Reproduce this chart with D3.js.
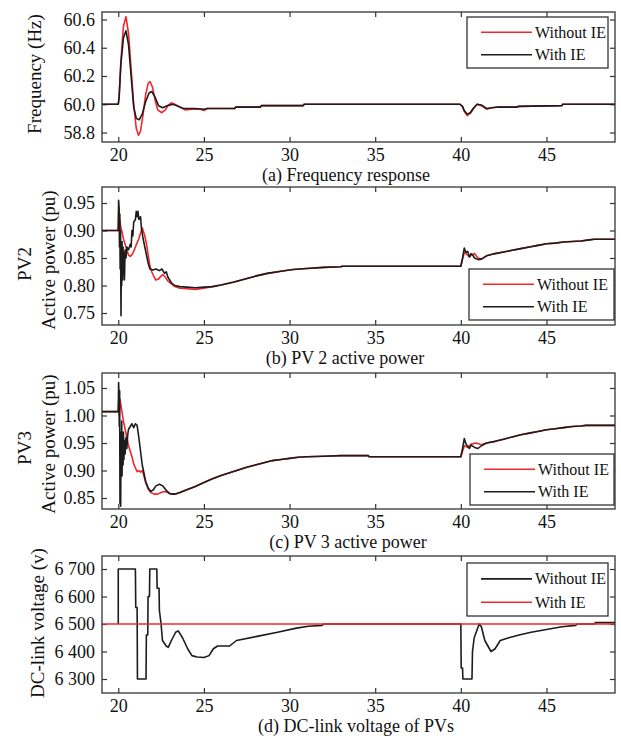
<!DOCTYPE html>
<html><head><meta charset="utf-8">
<script src="https://cdn.jsdelivr.net/npm/d3@7"></script>
<style>
body{margin:0;background:#fff;}
svg text{font-family:"Liberation Serif","Times New Roman",serif;fill:#111;}
</style></head><body>
<svg id="chart" width="621" height="736"></svg>
<script>
// ---------- DATA ----------
const xTicks = [20, 25, 30, 35, 40, 45];
const xDomain = [19.05, 49.0];

// (a) Frequency response (label "58.8" sits at the 59.8 position, as printed)
const freqTicks = [59.8, 60.0, 60.2, 60.4, 60.6];
const freqTickLabels = ["58.8", "60.0", "60.2", "60.4", "60.6"];
const freqWithoutIE = [[19.05,60.0],[20.0,60.0],[20.05,60.05],[20.15,60.3],[20.3,60.55],[20.45,60.62],[20.6,60.5],[20.75,60.25],[20.9,60.0],[21.05,59.83],[21.18,59.78],[21.3,59.81],[21.45,59.93],[21.6,60.07],[21.75,60.15],[21.86,60.16],[22.0,60.12],[22.15,60.03],[22.3,59.96],[22.54,59.94],[22.75,59.96],[22.9,59.99],[23.08,60.01],[23.3,60.0],[23.6,59.98],[23.9,59.96],[24.3,59.965],[24.8,59.965],[25.0,59.955],[25.2,59.97],[26.8,59.97],[26.85,59.98],[28.3,59.98],[28.35,59.99],[30.8,59.99],[30.85,60.0],[39.95,60.0],[40.1,59.98],[40.2,59.95],[40.37,59.92],[40.55,59.935],[40.75,59.97],[40.95,60.0],[41.2,59.99],[41.5,59.965],[41.8,59.975],[42.2,59.98],[43.3,59.98],[43.35,59.985],[45.9,59.99],[45.95,60.0],[49.05,60.0]];
const freqWithIE = [[19.05,60.0],[20.0,60.0],[20.05,60.05],[20.15,60.28],[20.3,60.47],[20.45,60.52],[20.6,60.42],[20.75,60.2],[20.9,59.98],[21.05,59.9],[21.22,59.89],[21.4,59.93],[21.6,60.02],[21.8,60.08],[21.95,60.09],[22.15,60.05],[22.35,59.99],[22.6,59.975],[22.85,59.99],[23.2,60.0],[23.5,59.985],[23.8,59.97],[24.5,59.97],[25.0,59.965],[25.2,59.97],[26.8,59.97],[26.85,59.98],[28.3,59.98],[28.35,59.99],[30.8,59.99],[30.85,60.0],[39.95,60.0],[40.1,59.985],[40.2,59.955],[40.37,59.93],[40.55,59.94],[40.75,59.975],[40.95,60.0],[41.2,59.995],[41.5,59.97],[41.8,59.975],[42.2,59.98],[43.3,59.98],[43.35,59.985],[45.9,59.99],[45.95,60.0],[49.05,60.0]];

// (b) PV2 active power
const pv2Ticks = [0.75, 0.80, 0.85, 0.90, 0.95];
const pv2TickLabels = ["0.75", "0.80", "0.85", "0.90", "0.95"];
const pv2WithoutIE = [[19.05,0.90],[20.0,0.90],[20.03,0.94],[20.06,0.91],[20.1,0.918],[20.15,0.905],[20.2,0.90],[20.3,0.885],[20.4,0.875],[20.5,0.865],[20.6,0.855],[20.7,0.853],[20.8,0.856],[20.9,0.862],[21.0,0.87],[21.1,0.878],[21.2,0.885],[21.3,0.895],[21.4,0.905],[21.45,0.90],[21.55,0.89],[21.65,0.875],[21.75,0.855],[21.85,0.835],[21.95,0.825],[22.1,0.815],[22.2,0.81],[22.35,0.812],[22.5,0.817],[22.6,0.82],[22.75,0.815],[22.9,0.808],[23.1,0.803],[23.3,0.798],[23.6,0.795],[24.0,0.794],[24.5,0.793],[25.0,0.795],[25.5,0.798],[26.0,0.801],[26.7,0.806],[27.3,0.811],[28.0,0.817],[28.7,0.822],[29.5,0.826],[30.2,0.829],[31.0,0.831],[32.0,0.833],[33.0,0.834],[33.05,0.835],[40.0,0.835],[40.1,0.848],[40.2,0.86],[40.4,0.855],[40.5,0.852],[40.65,0.856],[40.8,0.858],[41.0,0.85],[41.2,0.848],[41.5,0.854],[42.0,0.858],[42.5,0.861],[43.0,0.864],[43.5,0.867],[44.0,0.87],[44.5,0.873],[45.0,0.876],[45.5,0.877],[46.0,0.879],[46.5,0.88],[47.0,0.881],[47.5,0.883],[47.8,0.884],[49.05,0.884]];
const pv2WithIE = [[19.05,0.90],[20.0,0.90],[20.02,0.955],[20.05,0.94],[20.07,0.87],[20.09,0.93],[20.11,0.83],[20.13,0.90],[20.16,0.745],[20.18,0.86],[20.2,0.80],[20.22,0.88],[20.25,0.81],[20.28,0.87],[20.3,0.82],[20.33,0.86],[20.36,0.81],[20.4,0.865],[20.45,0.85],[20.5,0.87],[20.6,0.865],[20.7,0.875],[20.75,0.87],[20.8,0.90],[20.85,0.89],[20.9,0.915],[21.0,0.92],[21.05,0.935],[21.1,0.925],[21.15,0.935],[21.2,0.92],[21.3,0.925],[21.35,0.905],[21.45,0.885],[21.55,0.87],[21.65,0.855],[21.75,0.84],[21.85,0.83],[22.0,0.828],[22.2,0.83],[22.4,0.827],[22.55,0.83],[22.7,0.822],[22.8,0.825],[22.9,0.815],[23.1,0.805],[23.3,0.80],[23.6,0.798],[24.0,0.797],[24.5,0.796],[25.0,0.797],[25.5,0.798],[26.0,0.801],[26.7,0.806],[27.3,0.811],[28.0,0.817],[28.7,0.822],[29.5,0.826],[30.2,0.829],[31.0,0.831],[32.0,0.833],[33.0,0.834],[33.05,0.835],[40.0,0.835],[40.1,0.85],[40.2,0.868],[40.3,0.86],[40.4,0.862],[40.5,0.852],[40.6,0.858],[40.7,0.855],[40.8,0.85],[41.0,0.847],[41.2,0.848],[41.5,0.854],[42.0,0.858],[42.5,0.861],[43.0,0.864],[43.5,0.867],[44.0,0.87],[44.5,0.873],[45.0,0.876],[45.5,0.877],[46.0,0.879],[46.5,0.88],[47.0,0.881],[47.5,0.883],[47.8,0.884],[49.05,0.884]];

// (c) PV3 active power
const pv3Ticks = [0.85, 0.90, 0.95, 1.00, 1.05];
const pv3TickLabels = ["0.85", "0.90", "0.95", "1.00", "1.05"];
const pv3WithoutIE = [[19.05,1.007],[20.0,1.007],[20.03,1.03],[20.06,1.0],[20.1,1.03],[20.15,1.02],[20.2,1.01],[20.3,0.99],[20.4,0.975],[20.5,0.96],[20.6,0.945],[20.7,0.935],[20.8,0.925],[20.9,0.912],[21.0,0.905],[21.1,0.898],[21.2,0.90],[21.3,0.897],[21.4,0.90],[21.5,0.89],[21.6,0.878],[21.75,0.866],[21.9,0.86],[22.1,0.857],[22.3,0.857],[22.5,0.86],[22.7,0.862],[22.9,0.86],[23.1,0.857],[23.3,0.857],[23.6,0.86],[24.0,0.865],[24.5,0.871],[25.0,0.878],[25.5,0.885],[26.0,0.891],[26.5,0.896],[27.0,0.901],[27.5,0.906],[28.0,0.91],[28.5,0.914],[29.0,0.918],[29.5,0.92],[30.0,0.922],[30.5,0.924],[31.0,0.925],[32.0,0.926],[33.0,0.927],[34.6,0.927],[34.65,0.925],[40.0,0.925],[40.1,0.935],[40.2,0.945],[40.4,0.942],[40.6,0.948],[40.9,0.95],[41.2,0.947],[41.5,0.95],[42.0,0.953],[42.5,0.957],[43.0,0.961],[43.5,0.965],[44.0,0.968],[44.5,0.971],[45.0,0.974],[45.5,0.976],[46.0,0.978],[46.5,0.98],[47.0,0.981],[47.3,0.982],[49.05,0.982]];
const pv3WithIE = [[19.05,1.007],[20.0,1.007],[20.02,1.06],[20.04,1.04],[20.06,0.98],[20.08,1.045],[20.1,0.84],[20.12,0.95],[20.14,0.835],[20.16,0.97],[20.18,0.90],[20.2,0.99],[20.22,0.89],[20.25,0.96],[20.28,0.91],[20.3,0.97],[20.33,0.92],[20.36,0.955],[20.4,0.93],[20.45,0.96],[20.5,0.94],[20.55,0.965],[20.6,0.975],[20.7,0.98],[20.8,0.985],[20.9,0.978],[21.0,0.985],[21.1,0.982],[21.2,0.96],[21.3,0.935],[21.4,0.91],[21.5,0.895],[21.6,0.88],[21.75,0.868],[21.9,0.862],[22.05,0.865],[22.2,0.872],[22.4,0.875],[22.6,0.872],[22.8,0.864],[23.0,0.858],[23.3,0.857],[23.6,0.86],[24.0,0.865],[24.5,0.871],[25.0,0.878],[25.5,0.885],[26.0,0.891],[26.5,0.896],[27.0,0.901],[27.5,0.906],[28.0,0.91],[28.5,0.914],[29.0,0.918],[29.5,0.92],[30.0,0.922],[30.5,0.924],[31.0,0.925],[32.0,0.926],[33.0,0.927],[34.6,0.927],[34.65,0.925],[40.0,0.925],[40.1,0.94],[40.2,0.958],[40.3,0.948],[40.4,0.944],[40.5,0.94],[40.6,0.946],[40.8,0.942],[41.0,0.94],[41.2,0.945],[41.5,0.95],[42.0,0.953],[42.5,0.957],[43.0,0.961],[43.5,0.965],[44.0,0.968],[44.5,0.971],[45.0,0.974],[45.5,0.976],[46.0,0.978],[46.5,0.98],[47.0,0.981],[47.3,0.982],[49.05,0.982]];

// (d) DC-link voltage
const dcTicks = [6300, 6400, 6500, 6600, 6700];
const dcTickLabels = ["6 300", "6 400", "6 500", "6 600", "6 700"];
const dcWithoutIE = [[20.0,6500],[20.0,6700],[21.0,6700],[21.02,6560],[21.1,6560],[21.12,6300],[21.62,6300],[21.64,6460],[21.72,6460],[21.74,6600],[21.82,6600],[21.84,6700],[22.25,6700],[22.27,6630],[22.38,6630],[22.4,6550],[22.5,6500],[22.58,6440],[22.8,6420],[22.92,6415],[23.1,6440],[23.35,6470],[23.5,6475],[23.75,6450],[24.05,6410],[24.3,6385],[24.6,6380],[25.0,6378],[25.3,6385],[25.55,6410],[25.8,6420],[26.5,6420],[26.9,6440],[28.1,6455],[29.3,6470],[30.4,6485],[31.1,6492],[31.9,6495],[32.0,6500],[40.0,6500],[40.02,6340],[40.1,6340],[40.12,6300],[40.65,6300],[40.68,6400],[40.78,6450],[41.07,6500],[41.2,6490],[41.4,6440],[41.76,6400],[42.0,6410],[42.3,6440],[42.8,6450],[43.4,6460],[44.1,6470],[45.0,6480],[45.9,6490],[46.7,6495],[46.8,6500],[47.8,6500],[47.85,6505],[49.05,6505]];
const dcWithIE = [[19.05,6500],[49.05,6500]];

const seriesNames = ["Without IE", "With IE"];
const RED = "#f0282d", BLACK = "#1c1c1c";

// ---------- DRAWING ----------
const svg = d3.select("#chart");
const x = d3.scaleLinear().domain(xDomain).range([102, 615]);

const panels = [
  {top:12, bottom:142, yVals:[59.8,60.6], yPix:[132.5,19.5], ticks:freqTicks, labels:freqTickLabels,
   series:[{d:freqWithoutIE,c:RED},{d:freqWithIE,c:BLACK}],
   legend:{x:467,y:17,w:141,h:51,items:[{n:seriesNames[0],c:RED},{n:seriesNames[1],c:BLACK}]},
   ylab:[{t:"Frequency (Hz)",x:34,y:74}], title:"(a) Frequency response", tx:346},
  {top:187, bottom:325, yVals:[0.75,0.95], yPix:[313,203], ticks:pv2Ticks, labels:pv2TickLabels,
   series:[{d:pv2WithoutIE,c:RED},{d:pv2WithIE,c:BLACK}],
   legend:{x:469,y:269,w:145,h:51,items:[{n:seriesNames[0],c:RED},{n:seriesNames[1],c:BLACK}]},
   ylab:[{t:"PV2",x:24,y:264},{t:"Active power (pu)",x:48,y:260}], title:"(b) PV 2 active power", tx:345},
  {top:373, bottom:509, yVals:[0.85,1.05], yPix:[498,388], ticks:pv3Ticks, labels:pv3TickLabels,
   series:[{d:pv3WithoutIE,c:RED},{d:pv3WithIE,c:BLACK}],
   legend:{x:470,y:454,w:144,h:51,items:[{n:seriesNames[0],c:RED},{n:seriesNames[1],c:BLACK}]},
   ylab:[{t:"PV3",x:24,y:448},{t:"Active power (pu)",x:48,y:444}], title:"(c) PV 3 active power", tx:348},
  {top:556, bottom:693, yVals:[6300,6700], yPix:[679,569], ticks:dcTicks, labels:dcTickLabels,
   series:[{d:dcWithoutIE,c:BLACK},{d:dcWithIE,c:RED}],
   legend:{x:467,y:563,w:141,h:53,items:[{n:seriesNames[0],c:BLACK},{n:seriesNames[1],c:RED}]},
   ylab:[{t:"DC-link voltage (v)",x:37,y:623}], title:"(d) DC-link voltage of PVs", tx:356}
];

panels.forEach((p, i) => {
  const y = d3.scaleLinear().domain(p.yVals).range(p.yPix);
  const g = svg.append("g");
  const clipId = "clip" + i;
  svg.append("clipPath").attr("id", clipId).append("rect")
    .attr("x", 102).attr("y", p.top).attr("width", 513).attr("height", p.bottom - p.top);

  // axes (inner ticks on all four sides)
  const fmt = (d) => p.labels[p.ticks.indexOf(d)];
  const left = g.append("g").attr("transform", "translate(102,0)")
    .call(d3.axisLeft(y).tickValues(p.ticks).tickSize(-5).tickPadding(7).tickFormat(fmt));
  const right = g.append("g").attr("transform", "translate(615,0)")
    .call(d3.axisRight(y).tickValues(p.ticks).tickSize(-5).tickFormat(""));
  const bottom = g.append("g").attr("transform", `translate(0,${p.bottom})`)
    .call(d3.axisBottom(x).tickValues(xTicks).tickSize(-5).tickFormat(d3.format("d")));
  const top = g.append("g").attr("transform", `translate(0,${p.top})`)
    .call(d3.axisTop(x).tickValues(xTicks).tickSize(-5).tickFormat(""));
  [left, right, bottom, top].forEach(a => {
    a.select(".domain").remove();
    a.selectAll("line").attr("stroke", "#333").attr("stroke-width", 1.2);
    a.selectAll("text").style("font-family", '"Liberation Serif", serif').attr("font-size", 18).attr("fill", "#111");
  });
  left.selectAll("text").attr("dy", "0.33em");
  bottom.selectAll("text").attr("y", 19).attr("dy", "0");

  // lines
  const line = d3.line().x(d => x(d[0])).y(d => y(d[1]));
  const lg = g.append("g").attr("clip-path", `url(#${clipId})`);
  p.series.forEach(s => {
    lg.append("path").datum(s.d).attr("d", line).attr("fill", "none")
      .attr("stroke", s.c).attr("stroke-width", 1.6).attr("stroke-linejoin", "round");
  });

  // frame
  g.append("rect").attr("x", 102).attr("y", p.top).attr("width", 513).attr("height", p.bottom - p.top)
    .attr("fill", "none").attr("stroke", "#333").attr("stroke-width", 1.3);

  // legend
  const L = p.legend;
  const lgd = g.append("g");
  lgd.append("rect").attr("x", L.x).attr("y", L.y).attr("width", L.w).attr("height", L.h)
    .attr("fill", "#fff").attr("stroke", "#333").attr("stroke-width", 1.3);
  L.items.forEach((it, k) => {
    const cy = L.y + L.h * (k === 0 ? 0.3 : 0.74);
    lgd.append("line").attr("x1", L.x + 14).attr("x2", L.x + 65).attr("y1", cy).attr("y2", cy)
      .attr("stroke", it.c).attr("stroke-width", 1.6);
    lgd.append("text").attr("x", L.x + 68).attr("y", cy + 5.5).attr("font-size", 16).text(it.n);
  });

  // y labels
  p.ylab.forEach(l => {
    g.append("text").attr("transform", `translate(${l.x},${l.y}) rotate(-90)`)
      .attr("text-anchor", "middle").attr("dy", "0.35em").attr("font-size", 19).text(l.t);
  });

  // title
  g.append("text").attr("x", p.tx).attr("y", p.bottom + 39).attr("text-anchor", "middle")
    .attr("font-size", 18).text(p.title);
});
</script></body></html>
